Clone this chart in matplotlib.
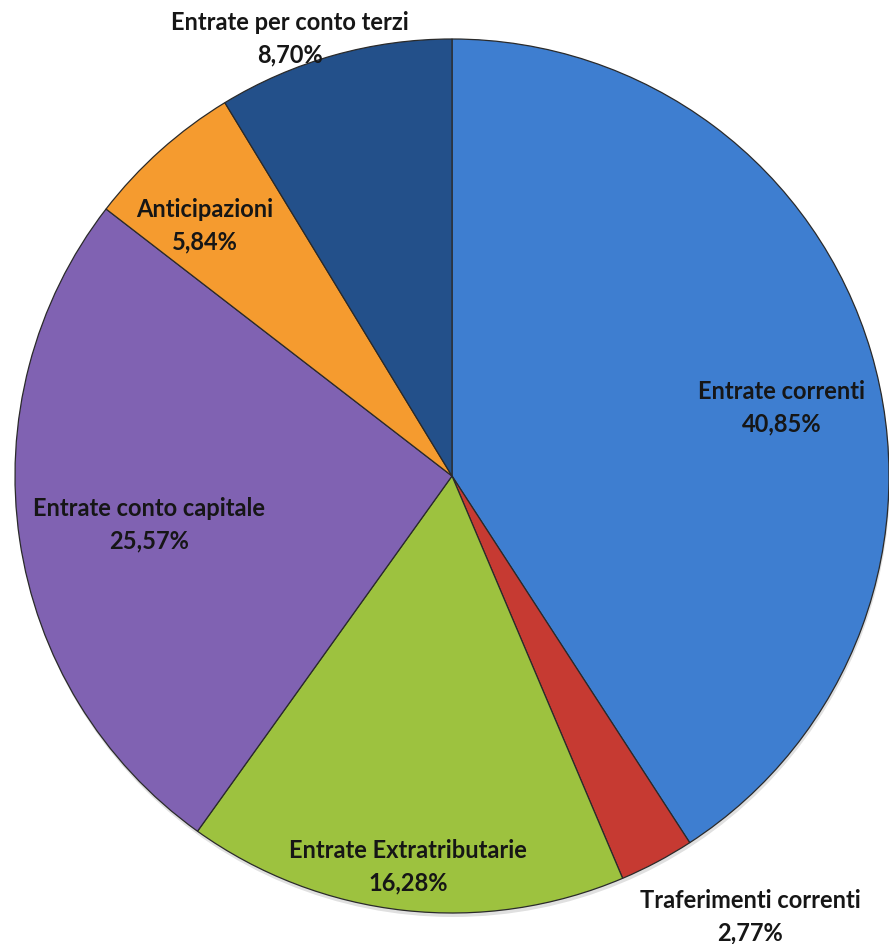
import matplotlib
matplotlib.use("Agg")
from matplotlib import pyplot as plt
from matplotlib.patches import Circle

# dati
voci = ["Entrate correnti", "Traferimenti correnti", "Entrate Extratributarie",
        "Entrate conto capitale", "Anticipazioni", "Entrate per conto terzi"]
percentuali = [40.85, 2.77, 16.28, 25.57, 5.84, 8.70]
colori = ["#3E7ED0", "#C63A32", "#9DC23F", "#8062B2", "#F59B2F", "#23508A"]

# posizioni etichette (pixel, centro del blocco di testo)
pos_etichette = [(782, 408), (750, 917), (408, 867), (149, 525), (205, 226), (290, 39)]

W, H = 889, 944
cx, cy, r = 452, 476, 437

fig = plt.figure(figsize=(W / 100, H / 100), dpi=100)
ax = fig.add_axes([0, 0, 1, 1])

# ombra leggera
ax.add_patch(Circle((cx + 1, H - cy - 4), r, color="#000000", alpha=0.12, lw=0))

ax.pie(percentuali, colors=colori, startangle=90, counterclock=False,
       center=(cx, H - cy), radius=r, frame=True,
       wedgeprops=dict(edgecolor="#2a2a2a", linewidth=0.9))
ax.set_xlim(0, W)
ax.set_ylim(0, H)
ax.set_aspect('auto')
ax.axis('off')

for v, p, (x, y) in zip(voci, percentuali, pos_etichette):
    testo = v + "\n" + ("%.2f%%" % p).replace(".", ",")
    ax.text(x, H - y, testo, ha='center', va='center', fontsize=17,
            fontweight='bold', family='Lato', color='#161616', linespacing=1.5)

fig.savefig("out.png", dpi=100)
